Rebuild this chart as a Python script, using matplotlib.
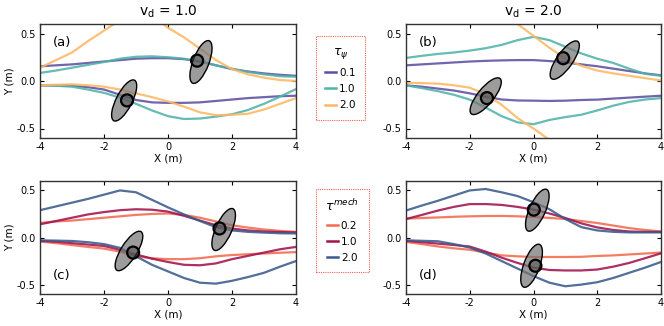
import matplotlib
matplotlib.use("Agg")
import matplotlib.pyplot as plt
import numpy as np
from matplotlib.patches import Ellipse
from matplotlib.lines import Line2D
from matplotlib.transforms import ScaledTranslation

nan = np.nan

# common x grid the curves were read on
x = np.arange(-4, 4.01, 0.5)

# (a) v_d = 1.0, tau_psi
a_up_01 = [0.155, 0.165, 0.175, 0.19, 0.205, 0.22, 0.235, 0.24, 0.24, 0.23, 0.205, 0.165, 0.125, 0.10, 0.08, 0.065, 0.055]
a_up_10 = [0.085, 0.11, 0.14, 0.17, 0.2, 0.235, 0.255, 0.26, 0.25, 0.235, 0.205, 0.165, 0.13, 0.095, 0.07, 0.05, 0.045]
a_up_20 = [0.14, 0.22, 0.3, 0.42, 0.53, 0.64, 0.71, 0.69, 0.56, 0.46, 0.34, 0.22, 0.125, 0.07, 0.035, 0.01, 0.0]
a_lo_01 = [-0.045, -0.047, -0.05, -0.065, -0.09, -0.145, -0.2, -0.225, -0.23, -0.23, -0.225, -0.21, -0.195, -0.18, -0.17, -0.16, -0.155]
a_lo_10 = [-0.045, -0.05, -0.06, -0.09, -0.125, -0.175, -0.24, -0.31, -0.37, -0.40, -0.395, -0.375, -0.35, -0.305, -0.24, -0.165, -0.085]
a_lo_20 = [-0.045, -0.04, -0.035, -0.045, -0.06, -0.09, -0.13, -0.17, -0.215, -0.27, -0.33, -0.36, -0.355, -0.345, -0.3, -0.24, -0.18]

# (b) v_d = 2.0, tau_psi
b_up_01 = [0.165, 0.175, 0.185, 0.195, 0.205, 0.212, 0.217, 0.22, 0.22, 0.21, 0.195, 0.175, 0.155, 0.13, 0.105, 0.08, 0.06]
b_up_10 = [0.243, 0.265, 0.285, 0.30, 0.32, 0.345, 0.38, 0.43, 0.465, 0.43, 0.36, 0.29, 0.235, 0.19, 0.13, 0.075, 0.055]
b_up_20 = [nan, nan, nan, nan, nan, nan, 0.72, 0.6, 0.475, 0.35, 0.235, 0.16, 0.11, 0.08, 0.055, 0.03, 0.005]
b_lo_01 = [-0.046, -0.06, -0.08, -0.1, -0.13, -0.165, -0.195, -0.205, -0.207, -0.21, -0.207, -0.2, -0.196, -0.185, -0.175, -0.165, -0.155]
b_lo_10 = [-0.046, -0.075, -0.107, -0.145, -0.196, -0.28, -0.37, -0.435, -0.455, -0.41, -0.38, -0.355, -0.31, -0.26, -0.22, -0.195, -0.18]
b_lo_20 = [-0.02, -0.022, -0.028, -0.045, -0.07, -0.14, -0.25, -0.39, -0.5, -0.62, -0.74, nan, nan, nan, nan, nan, nan]

# (c) v_d = 1.0, tau_mech
c_up_02 = [0.155, 0.17, 0.18, 0.195, 0.21, 0.225, 0.24, 0.25, 0.255, 0.24, 0.21, 0.17, 0.13, 0.105, 0.085, 0.07, 0.06]
c_up_10 = [0.14, 0.175, 0.21, 0.245, 0.27, 0.29, 0.30, 0.295, 0.275, 0.23, 0.18, 0.13, 0.095, 0.075, 0.064, 0.058, 0.054]
c_up_20 = [0.29, 0.33, 0.37, 0.41, 0.455, 0.5, 0.48, 0.40, 0.32, 0.245, 0.175, 0.11, 0.075, 0.06, 0.052, 0.045, 0.043]
c_lo_02 = [-0.043, -0.06, -0.08, -0.1, -0.118, -0.15, -0.2, -0.22, -0.23, -0.23, -0.22, -0.2, -0.186, -0.178, -0.17, -0.162, -0.155]
c_lo_10 = [-0.036, -0.045, -0.06, -0.075, -0.09, -0.13, -0.18, -0.225, -0.26, -0.29, -0.295, -0.275, -0.23, -0.195, -0.16, -0.125, -0.1]
c_lo_20 = [-0.03, -0.033, -0.037, -0.05, -0.07, -0.11, -0.2, -0.29, -0.36, -0.43, -0.48, -0.49, -0.46, -0.42, -0.375, -0.31, -0.25]

# (d) v_d = 2.0, tau_mech
d_up_02 = [0.2, 0.207, 0.213, 0.22, 0.225, 0.228, 0.229, 0.225, 0.218, 0.208, 0.196, 0.175, 0.154, 0.127, 0.1, 0.08, 0.064]
d_up_10 = [0.196, 0.24, 0.286, 0.325, 0.355, 0.355, 0.346, 0.325, 0.296, 0.255, 0.207, 0.15, 0.107, 0.08, 0.064, 0.06, 0.06]
d_up_20 = [0.286, 0.34, 0.39, 0.445, 0.5, 0.515, 0.48, 0.44, 0.375, 0.30, 0.196, 0.11, 0.075, 0.06, 0.054, 0.054, 0.054]
d_lo_02 = [-0.046, -0.07, -0.095, -0.115, -0.13, -0.16, -0.19, -0.2, -0.207, -0.207, -0.207, -0.205, -0.196, -0.19, -0.18, -0.17, -0.16]
d_lo_10 = [-0.036, -0.05, -0.065, -0.08, -0.096, -0.15, -0.214, -0.27, -0.32, -0.345, -0.35, -0.35, -0.34, -0.31, -0.27, -0.22, -0.168]
d_lo_20 = [-0.03, -0.035, -0.04, -0.07, -0.107, -0.17, -0.25, -0.33, -0.41, -0.48, -0.518, -0.5, -0.475, -0.43, -0.375, -0.32, -0.26]

# agents: ellipse centre (x, y, tilt from vertical in deg) and body circle (x, y)
a_ell = [(1.03, 0.20, 21), (-1.37, -0.205, 27)]
a_circ = [(0.91, 0.214), (-1.28, -0.204)]
b_ell = [(0.98, 0.22, 35), (-1.5, -0.16, 39)]
b_circ = [(0.93, 0.24), (-1.46, -0.18)]
c_ell = [(1.74, 0.085, 24), (-1.22, -0.143, 32)]
c_circ = [(1.61, 0.096), (-1.09, -0.16)]
d_ell = [(0.12, 0.29, 24), (-0.06, -0.30, 20)]
d_circ = [(0.01, 0.296), (0.06, -0.30)]

psi_labels = ["0.1", "1.0", "2.0"]
mech_labels = ["0.2", "1.0", "2.0"]
psi_colors = ["#5e4fa2", "#4fb3a9", "#fdb863"]
mech_colors = ["#f26b4f", "#a3124c", "#3a5a8c"]

fig = plt.figure(figsize=(6.64, 3.26), dpi=100)
W, H = 664.0, 326.0
axa = fig.add_axes([40 / W, 1 - 138 / H, 256 / W, 114 / H])
axb = fig.add_axes([406 / W, 1 - 138 / H, 255 / W, 114 / H])
axc = fig.add_axes([40 / W, 1 - 294 / H, 256 / W, 113 / H])
axd = fig.add_axes([406 / W, 1 - 294 / H, 255 / W, 113 / H])


def draw(ax, curves, ells, circs, tag, tagpos):
    for ys, col in curves:
        ax.plot(x, ys, color=col, lw=1.6, alpha=0.88,
                solid_capstyle="round", solid_joinstyle="round")
    for (cx, cy, tilt) in ells:
        tr = fig.dpi_scale_trans + ScaledTranslation(cx, cy, ax.transData)
        ax.add_patch(Ellipse((0, 0), 0.16, 0.455, angle=-tilt, transform=tr,
                             facecolor="0.45", alpha=0.7, edgecolor="none", zorder=5))
        ax.add_patch(Ellipse((0, 0), 0.16, 0.455, angle=-tilt, transform=tr,
                             facecolor="none", edgecolor="black", lw=1.0, zorder=6))
    for (cx, cy) in circs:
        tr = fig.dpi_scale_trans + ScaledTranslation(cx, cy, ax.transData)
        ax.add_patch(Ellipse((0, 0), 0.12, 0.12, transform=tr,
                             facecolor="0.25", alpha=0.45, edgecolor="none", zorder=7))
        ax.add_patch(Ellipse((0, 0), 0.12, 0.12, transform=tr,
                             facecolor="none", edgecolor="black", lw=1.6, zorder=8))
    ax.set_xlim(-4, 4)
    ax.set_ylim(-0.6, 0.6)
    ax.set_xticks([-4, -2, 0, 2, 4])
    ax.set_yticks([-0.5, 0.0, 0.5])
    ax.set_yticklabels(["-0.5", "0.0", "0.5"])
    ax.set_xticklabels(["-4", "-2", "0", "2", "4"])
    ax.tick_params(direction="in", top=True, right=True, labelsize=7, length=3, width=0.8, pad=3)
    for s in ax.spines.values():
        s.set_linewidth(1.0)
        s.set_color("#333333")
    ax.set_xlabel("X (m)", fontsize=7.5, labelpad=1)
    ax.text(tagpos[0], tagpos[1], tag, transform=ax.transAxes, fontsize=9.5, va="center", ha="left")


draw(axa, [(a_up_01, psi_colors[0]), (a_lo_01, psi_colors[0]),
           (a_up_10, psi_colors[1]), (a_lo_10, psi_colors[1]),
           (a_up_20, psi_colors[2]), (a_lo_20, psi_colors[2])],
     a_ell, a_circ, "(a)", (0.05, 0.84))
draw(axb, [(b_up_01, psi_colors[0]), (b_lo_01, psi_colors[0]),
           (b_up_10, psi_colors[1]), (b_lo_10, psi_colors[1]),
           (b_up_20, psi_colors[2]), (b_lo_20, psi_colors[2])],
     b_ell, b_circ, "(b)", (0.05, 0.84))
draw(axc, [(c_up_02, mech_colors[0]), (c_lo_02, mech_colors[0]),
           (c_up_10, mech_colors[1]), (c_lo_10, mech_colors[1]),
           (c_up_20, mech_colors[2]), (c_lo_20, mech_colors[2])],
     c_ell, c_circ, "(c)", (0.05, 0.16))
draw(axd, [(d_up_02, mech_colors[0]), (d_lo_02, mech_colors[0]),
           (d_up_10, mech_colors[1]), (d_lo_10, mech_colors[1]),
           (d_up_20, mech_colors[2]), (d_lo_20, mech_colors[2])],
     d_ell, d_circ, "(d)", (0.05, 0.16))

axa.set_ylabel("Y (m)", fontsize=7.5, labelpad=2)
axc.set_ylabel("Y (m)", fontsize=7.5, labelpad=2)
axa.set_title(r"v$_\mathregular{d}$ = 1.0", fontsize=10, pad=6)
axb.set_title(r"v$_\mathregular{d}$ = 2.0", fontsize=10, pad=6)

for labels, colors, title, top in [(psi_labels, psi_colors, r"$\tau_\psi$", 36),
                                   (mech_labels, mech_colors, r"$\tau^{mech}$", 189)]:
    handles = [Line2D([], [], color=c, lw=1.8) for c in colors]
    leg = fig.legend(handles, labels, title=title, loc="upper left",
                     bbox_to_anchor=(316 / W, 1 - top / H), borderaxespad=0,
                     fontsize=7.5, title_fontsize=9, handlelength=1.0, handletextpad=0.3,
                     labelspacing=0.6, borderpad=0.9, fancybox=False, framealpha=1)
    fr = leg.get_frame()
    fr.set_edgecolor("#f06050")
    fr.set_linestyle((0, (1, 1)))
    fr.set_linewidth(0.8)

fig.savefig("out.png", dpi=100)
